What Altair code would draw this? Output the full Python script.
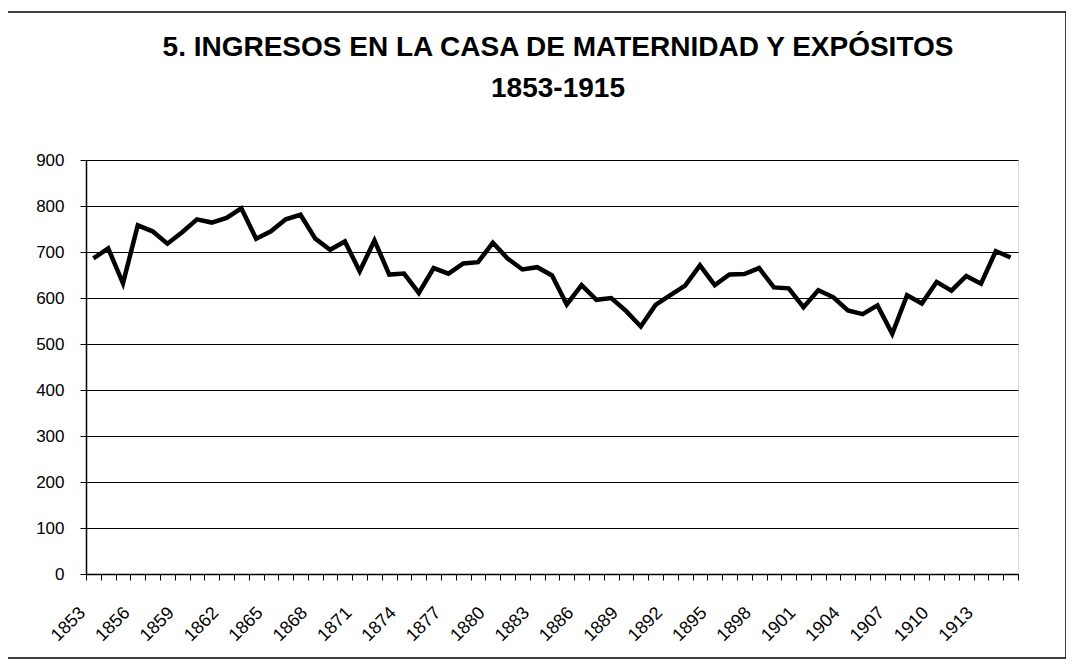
import altair as alt
import pandas as pd

years = list(range(1853, 1916))
ingresos = [686, 708, 632, 758, 745, 718, 743, 771, 764, 774,
            795, 729, 745, 771, 781, 729, 705, 723, 658, 725,
            651, 653, 611, 665, 653, 675, 678, 720, 686, 662,
            667, 649, 586, 628, 596, 600, 572, 538, 585, 606,
            627, 671, 628, 651, 652, 665, 623, 621, 580, 617,
            602, 573, 565, 584, 522, 606, 588, 635, 616, 648,
            631, 702, 688]
title_text = "5. INGRESOS EN LA CASA DE MATERNIDAD Y EXPÓSITOS\n1853-1915"
y_ticks = [0, 100, 200, 300, 400, 500, 600, 700, 800, 900]

df = pd.DataFrame({"year": years, "value": ingresos})

W, H = 932, 414
FONT = "Liberation Sans"

line = alt.Chart(df).mark_line(color="black", strokeWidth=4.5, strokeJoin="miter").encode(
    x=alt.X("year:O", bandPosition=0.5,
            scale=alt.Scale(type="band", paddingInner=0, paddingOuter=0),
            axis=alt.Axis(title=None, labelAngle=-45, labelAlign="right", labelBaseline="middle",
                          labelExpr="(datum.value - 1853) % 3 == 0 ? datum.label : ''",
                          tickBand="extent", tickSize=6, tickColor="black", tickWidth=1,
                          labelPadding=30, labelOffset=-11, labelFont=FONT, labelFontSize=18,
                          labelColor="black", domainColor="black", domainWidth=1.5,
                          grid=False, labelOverlap=False)),
    y=alt.Y("value:Q", scale=alt.Scale(domain=[0, 900], nice=False),
            axis=alt.Axis(title=None, values=y_ticks, grid=True, gridColor="black", gridWidth=1,
                          tickSize=6, tickColor="black", labelPadding=16, labelFont=FONT,
                          labelFontSize=17, labelColor="black", domainColor="black",
                          domainWidth=1.5)),
)

frame = alt.Chart(alt.Data(values=[{}])).mark_rect(fill="transparent", stroke="black", strokeWidth=1.5).encode(
    x=alt.value(-81), x2=alt.value(980), y=alt.value(-148), y2=alt.value(498)
)

title = alt.Chart(alt.Data(values=[{"t": title_text}])).mark_text(
    font=FONT, fontSize=28, fontWeight="bold", color="black", align="center",
    baseline="middle", lineBreak="\n", lineHeight=41
).encode(text="t:N", x=alt.value(472), y=alt.value(-112))

chart = alt.layer(line, frame, title).properties(
    width=W, height=H,
    autosize=alt.AutoSizeParams(type="none"),
    padding={"left": 78, "top": 152, "right": 48, "bottom": 86},
).configure_view(stroke="#808080", strokeWidth=1.5).configure(background="white")

chart.save("out.html", embed_options={"renderer": "svg", "actions": False})
